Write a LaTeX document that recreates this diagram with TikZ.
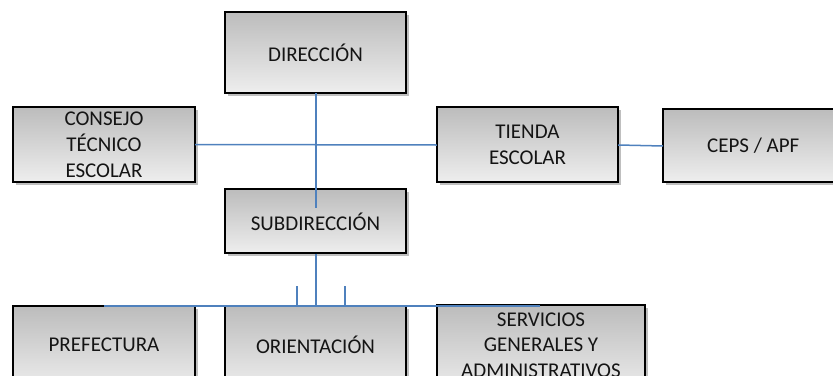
\documentclass[tikz,border=0pt]{standalone}
\usepackage{fontspec}
\setmainfont{Carlito}
\usetikzlibrary{shadows}
\definecolor{lineblue}{RGB}{79,129,189}
\tikzset{
  x=1pt,y=1pt,
  orgbox/.style={draw=black,line width=1.6pt,top color={rgb,255:red,188;green,188;blue,188},
    bottom color={rgb,255:red,238;green,238;blue,238},
    drop shadow={shadow xshift=2.5pt,shadow yshift=-3pt,opacity=0.25,fill=black},
    rectangle,inner sep=0pt},
  lbl/.style={align=center,font=\fontsize{21}{25.8}\selectfont,text=black!92},
  conn/.style={draw=lineblue,line width=1.5pt}
}
\begin{document}
\begin{tikzpicture}
\useasboundingbox (0,0) rectangle (833,-375);
% boxes
\path[orgbox] (225,-12) rectangle (406,-93);
\path[orgbox] (13,-107) rectangle (195,-182);
\path[orgbox] (437,-107) rectangle (618,-182);
\path[orgbox] (663,-109) rectangle (850,-182);
\path[orgbox] (225,-189) rectangle (406,-253);
\path[orgbox] (13,-306) rectangle (195,-390);
\path[orgbox] (225,-306) rectangle (406,-390);
\path[orgbox] (437,-305) rectangle (645,-395);
% labelled nodes
\node[lbl,minimum width=181,minimum height=81] (dir) at (315.5,-52.5) {DIRECCIÓN};
\node[lbl,minimum width=182,minimum height=75] (cons) at (104,-144.5) {CONSEJO\\TÉCNICO\\ESCOLAR};
\node[lbl,minimum width=181,minimum height=75] (tienda) at (527.5,-145) {TIENDA\\ESCOLAR};
\node[lbl,minimum width=187,minimum height=73,anchor=west] (ceps) at (663,-146) {\hspace*{-7pt}CEPS / APF};
\node[lbl,minimum width=181,minimum height=64] (sub) at (315.5,-221.5) {SUBDIRECCIÓN};
\node[lbl,minimum width=182,minimum height=78,anchor=north] (pref) at (104,-306) {PREFECTURA};
\node[lbl,minimum width=181,minimum height=78,anchor=north] (orient) at (315.5,-306) {ORIENTACIÓN};
\node[lbl,minimum width=208,minimum height=80,anchor=north] (serv) at (541,-305) {SERVICIOS\\GENERALES Y\\ADMINISTRATIVOS};
% coordinates
\coordinate (subin) at (316,-208);
\coordinate (busL) at (104,-306);
\coordinate (busR) at (540,-306);
\coordinate (busM) at (316,-306);
\coordinate (tickA) at (297,-286);
\coordinate (tickAb) at (297,-306);
\coordinate (tickB) at (345,-286);
\coordinate (tickBb) at (345,-306);
% connectors
\draw[conn] (dir.south -| subin) -- (subin);
\draw[conn] (cons.east) -- (tienda.west);
\draw[conn] (tienda.east) -- (ceps.west);
\draw[conn] (sub.south -| busM) -- (busM);
\draw[conn] (busL) -- (busR);
\draw[conn] (tickA) -- (tickAb);
\draw[conn] (tickB) -- (tickBb);
\end{tikzpicture}
\end{document}
